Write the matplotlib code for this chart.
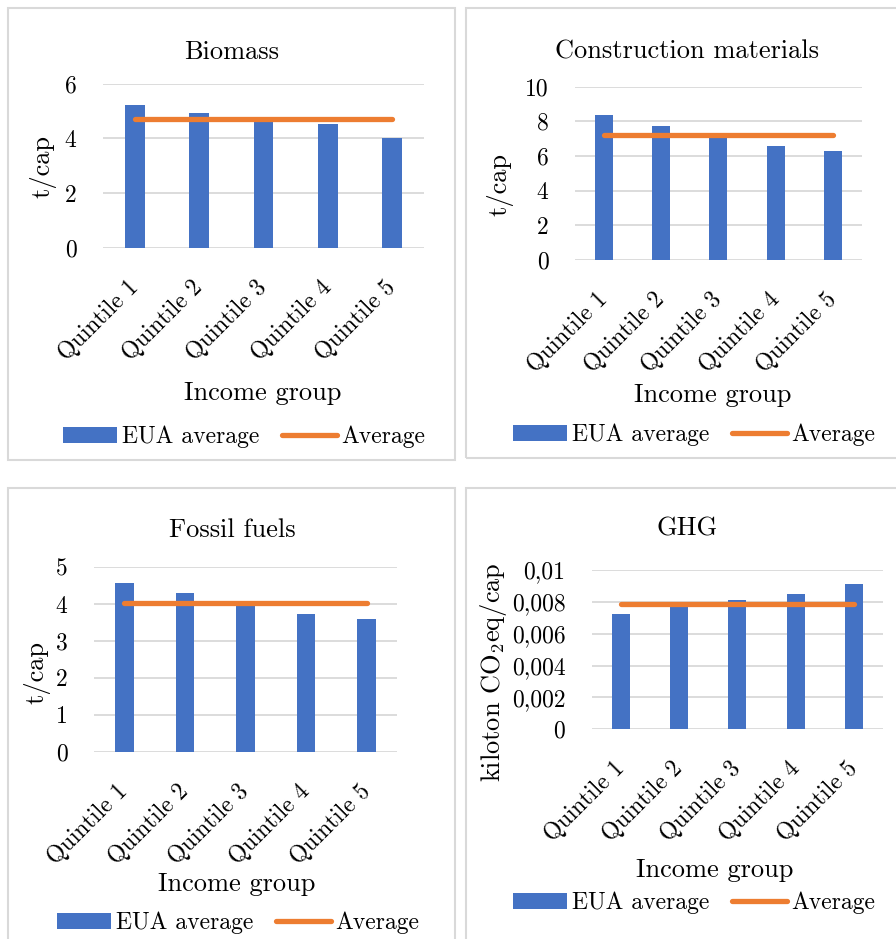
import matplotlib
matplotlib.use("Agg")
import matplotlib.pyplot as plt
from matplotlib.patches import Rectangle

# canvas size in pixels (dpi 100)
W, H = 896, 939

quintiles = ["Quintile 1", "Quintile 2", "Quintile 3", "Quintile 4", "Quintile 5"]

biomass = [5.21, 4.94, 4.65, 4.53, 4.02]
biomass_avg = 4.70
biomass_ticks = [0, 2, 4, 6]

construction = [8.35, 7.71, 7.15, 6.58, 6.27]
construction_avg = 7.21
construction_ticks = [0, 2, 4, 6, 8, 10]

fossil = [4.57, 4.29, 3.97, 3.72, 3.58]
fossil_avg = 4.03
fossil_ticks = [0, 1, 2, 3, 4, 5]

ghg = [0.00722, 0.00766, 0.00812, 0.00849, 0.00910]
ghg_avg = 0.00785
ghg_ticks = [0, 0.002, 0.004, 0.006, 0.008, 0.01]
ghg_ticklabels = ["0", "0,002", "0,004", "0,006", "0,008", "0,01"]

BLUE = "#4472C4"
ORANGE = "#ED7D31"
GRID = "#D9D9D9"

plt.rcParams["font.family"] = "cmr10"
plt.rcParams["mathtext.fontset"] = "cm"
plt.rcParams["axes.formatter.use_mathtext"] = True

fig = plt.figure(figsize=(W / 100, H / 100), dpi=100)


def frame(l, t, r, b):
    """light grey chart-area border, pixel coords"""
    fig.add_artist(Rectangle((l / W, 1 - b / H), (r - l) / W, (b - t) / H,
                             transform=fig.transFigure, fill=False,
                             ec="#D9D9D9", lw=1.5))


def panel(box, values, avg, ticks, ticklabels, title, ylabel,
          title_xy, xlabel_xy, ylabel_xy, legend_xy):
    l, t, r, b = box
    ax = fig.add_axes([l / W, 1 - b / H, (r - l) / W, (b - t) / H])

    def ax_x(px):
        return (px - l) / (r - l)

    def ax_y(py):
        return (b - py) / (b - t)

    x = range(len(values))
    bars = ax.bar(x, values, width=0.31, color=BLUE, zorder=2,
                  label="EUA average")
    line, = ax.plot(x, [avg] * len(values), color=ORANGE, lw=3.8,
                    solid_capstyle="round", zorder=3, label="Average")

    ax.set_xlim(-0.5, len(values) - 0.5)
    ax.set_ylim(ticks[0], ticks[-1])
    ax.set_yticks(ticks)
    ax.set_yticklabels(ticklabels)
    ax.set_xticks(list(x))
    ax.set_xticklabels(quintiles, rotation=45, ha="right", va="center",
                       rotation_mode="anchor")
    ax.tick_params(axis="y", length=0, pad=19, labelsize=17)
    ax.tick_params(axis="x", length=0, pad=26, labelsize=17)
    ax.grid(axis="y", color=GRID, lw=1.3, zorder=0)
    for s in ax.spines.values():
        s.set_visible(False)

    ax.text(ax_x(title_xy[0]), ax_y(title_xy[1]), title,
            transform=ax.transAxes, ha="center", va="center", fontsize=19)
    ax.set_xlabel("Income group", fontsize=19)
    ax.xaxis.label.set_va("center")
    ax.xaxis.set_label_coords(ax_x(xlabel_xy[0]), ax_y(xlabel_xy[1]))
    ax.set_ylabel(ylabel, fontsize=19)
    ax.yaxis.label.set_va("center")
    ax.yaxis.set_label_coords(ax_x(ylabel_xy[0]), ax_y(ylabel_xy[1]))

    fig.legend([bars, line], ["EUA average", "Average"], loc="center",
               bbox_to_anchor=(legend_xy[0] / W, 1 - legend_xy[1] / H),
               ncol=2, frameon=False, fontsize=17, handlelength=2.3,
               handleheight=0.7, handletextpad=0.2, columnspacing=1.0,
               borderpad=0)
    return ax


frame(8, 8, 455, 460)
frame(466, 8, 905, 458)
frame(8, 488, 455, 950)
frame(466, 488, 905, 950)

panel((103, 83.7, 424, 247.7), biomass, biomass_avg,
      biomass_ticks, [str(v) for v in biomass_ticks],
      "Biomass", "t/cap",
      title_xy=(232, 52), xlabel_xy=(263, 393), ylabel_xy=(43, 167),
      legend_xy=(244, 437))

panel((575, 86.7, 861.7, 260), construction, construction_avg,
      construction_ticks, [str(v) for v in construction_ticks],
      "Construction materials", "t/cap",
      title_xy=(687, 52), xlabel_xy=(713, 395), ylabel_xy=(500, 185),
      legend_xy=(694, 435))

panel((94, 567, 397, 751.7), fossil, fossil_avg,
      fossil_ticks, [str(v) for v in fossil_ticks],
      "Fossil fuels", "t/cap",
      title_xy=(232, 530), xlabel_xy=(237, 884), ylabel_xy=(37, 673),
      legend_xy=(238, 923))

panel((591.7, 570, 883, 729.3), ghg, ghg_avg,
      ghg_ticks, ghg_ticklabels,
      "GHG", "kiloton CO$_2$eq/cap",
      title_xy=(687, 529), xlabel_xy=(715, 870), ylabel_xy=(493, 672),
      legend_xy=(694, 903))

fig.savefig("out.png", dpi=100)
